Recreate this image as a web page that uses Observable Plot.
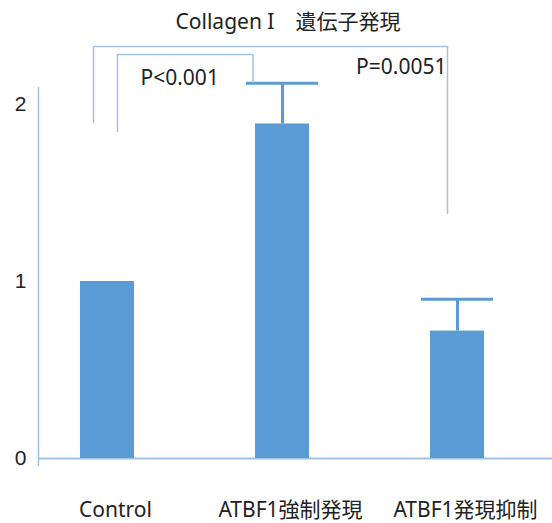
<!DOCTYPE html>
<html><head><meta charset="utf-8">
<script src="https://cdn.jsdelivr.net/npm/d3@7"></script>
<script src="https://cdn.jsdelivr.net/npm/@observablehq/plot@0.6"></script>
<style>
body{margin:0;background:#fff;}
#title{width:552px;height:40px;box-sizing:border-box;padding-left:24px;text-align:center;line-height:42px;font-family:"Noto Sans","Noto Sans CJK JP",sans-serif;font-size:21px;color:#222;white-space:pre;}
</style></head><body>
<div id="title">Collagen I　遺伝子発現</div>
<div id="chart"></div>
<script>
// ---- data ----
const categories = ["Control", "ATBF1強制発現", "ATBF1発現抑制"];
const means = [1.0, 1.89, 0.72];
const upperErr = [null, 2.12, 0.90];
const yTicks = [0, 1, 2];
// significance brackets: groups compared, leg bottoms, top height, p label
const bracketFrom = ["Control", "Control"];
const bracketTo = ["ATBF1発現抑制", "ATBF1強制発現"];
const bracketFromLow = [1.893, 1.842];
const bracketToLow = [1.379, 2.119];
const bracketTop = [2.328, 2.282];
const pLabels = ["P=0.0051", "P<0.001"];
const pLabelY = [2.209, 2.147];

// ---- styles ----
const barColor = "#5b9bd5";
const lineColor = "#9dc3e6";
const textColor = "#222";
const latin = "Noto Sans, Noto Sans CJK JP, sans-serif";

const rows = categories.map((c, i) => ({group: c, mean: means[i], upper: upperErr[i]}));
const errRows = rows.filter(d => d.upper != null);
const brackets = bracketFrom.map((f, i) => ({from: f, to: bracketTo[i], fromLow: bracketFromLow[i], toLow: bracketToLow[i], top: bracketTop[i], label: pLabels[i], labelY: pLabelY[i]}));

// per-bracket pixel offsets (style)
const bracketStyle = [
  {dxL: -14, dxR: -10, inL: 13, inR: 37, labelAt: "to", labelDx: -11, anchor: "end"},
  {dxL: 10, dxR: -29.5, inL: 37, inR: 56, labelAt: "from", labelDx: 33, anchor: "start"}
];

function bracketMarks(b, s) {
  const d = [b];
  return [
    Plot.ruleX(d, {x: "from", y1: "fromLow", y2: "top", dx: s.dxL, stroke: lineColor, strokeWidth: 1.5}),
    Plot.ruleX(d, {x: "to", y1: "toLow", y2: "top", dx: s.dxR, stroke: lineColor, strokeWidth: 1.5}),
    Plot.ruleY(d, {y: "top", x1: "from", x2: "to", insetLeft: s.inL, insetRight: s.inR, stroke: lineColor, strokeWidth: 1.5}),
    Plot.text(d, {x: s.labelAt, y: "labelY", text: "label", dx: s.labelDx, textAnchor: s.anchor, fontSize: 21, fontFamily: latin, fill: textColor})
  ];
}

const chart = Plot.plot({
  width: 552,
  height: 483,
  marginLeft: 38,
  marginRight: 0,
  marginTop: 47,
  marginBottom: 58,
  style: {background: "#fff", color: textColor, overflow: "visible"},
  x: {type: "band", domain: categories, paddingInner: 0.692, paddingOuter: 0.3105, align: 0.385, label: null},
  y: {domain: [0, 2], range: [418, 64], label: null},
  marks: [
    Plot.frame({anchor: "left", stroke: lineColor, strokeWidth: 1.5}),
    Plot.ruleY([0], {stroke: lineColor, strokeWidth: 2}),
    Plot.barY(rows, {x: "group", y: "mean", fill: barColor}),
    Plot.ruleX(errRows, {x: "group", y1: "mean", y2: "upper", stroke: barColor, strokeWidth: 3}),
    Plot.tickY(errRows, {x: "group", y: "upper", stroke: barColor, strokeWidth: 3, insetLeft: -9, insetRight: -9}),
    ...brackets.flatMap((b, i) => bracketMarks(b, bracketStyle[i])),
    Plot.axisY({ticks: yTicks, tickSize: 0, tickPadding: 18, textAnchor: "middle", fontSize: 21, fontFamily: "Liberation Sans, Arial, sans-serif", fill: textColor, tickFormat: d => String(d), label: null}),
    Plot.axisX({tickSize: 0, tickPadding: 37, dx: 8, fontSize: 21, fontFamily: latin, fill: textColor, label: null})
  ]
});
document.getElementById("chart").appendChild(chart);
</script>
</body></html>
